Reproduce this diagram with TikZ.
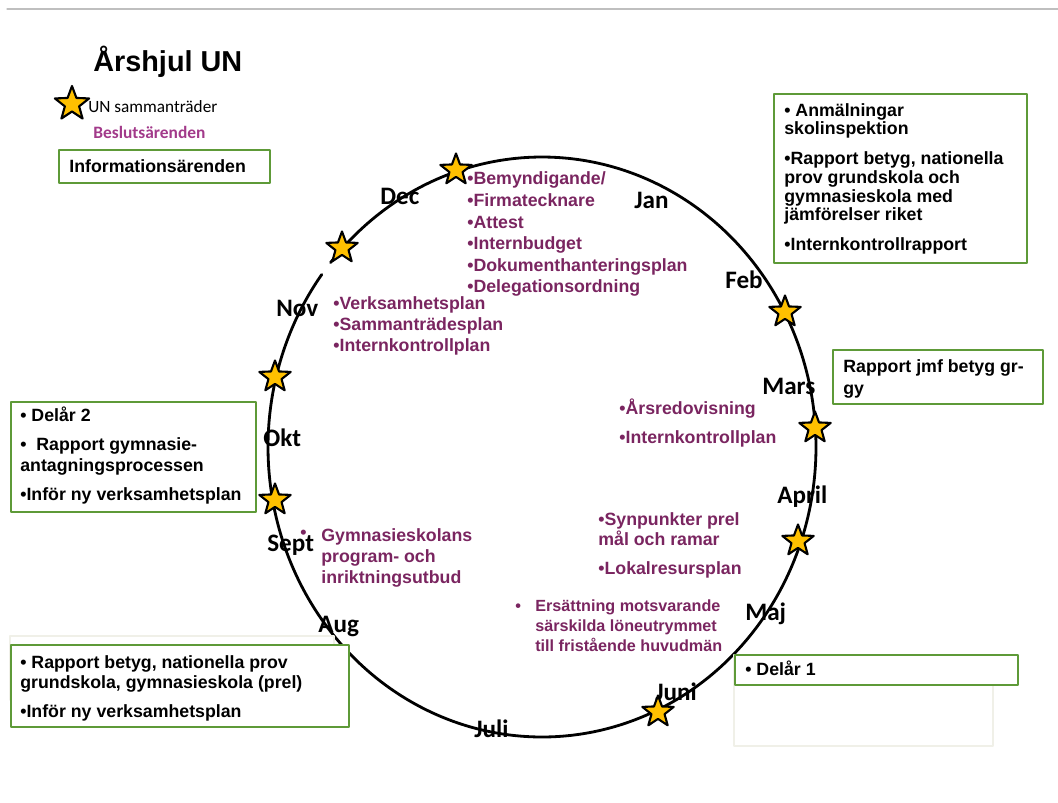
\documentclass[tikz,border=0pt]{standalone}
\usepackage{fontspec}
\setmainfont{Liberation Sans}
\newfontfamily\calibri{Carlito}
\usetikzlibrary{shapes.geometric}
\definecolor{boxgreen}{RGB}{94,154,56}
\definecolor{beslut}{RGB}{122,37,96}
\definecolor{legendpurple}{RGB}{162,58,138}
\definecolor{staryellow}{RGB}{255,192,0}
\definecolor{faint}{RGB}{240,240,232}

\tikzset{
	infobox/.style={draw=boxgreen, fill=white, line width=1.6pt},
	faintbox/.style={draw=faint, line width=1.6pt},
	boxtext/.style={anchor=base west, inner sep=0pt, font=\bfseries\fontsize{10.1}{12}\selectfont},
	besltext/.style={boxtext, text=beslut},
	month/.style={anchor=base west, inner sep=0pt, font=\calibri\bfseries\fontsize{14.3}{16}\selectfont},
	meeting/.style={star, star points=5, star point ratio=2.4, minimum size=0.66cm, inner sep=0pt,
		draw=black, line width=1.2pt, fill=staryellow},
}

\begin{document}
\begin{tikzpicture}[x=0.02cm, y=-0.02cm, line cap=round, line join=round]
	\useasboundingbox (0,0) rectangle (1058,802);
	\draw[black!25, line width=0.6pt] (7,9) -- (1058,9);
	
	%========================
	% Legend
	%========================
	\node[anchor=base west, inner sep=0pt, font=\bfseries\fontsize{16.4}{18}\selectfont] (title) at (93,71) {Årshjul UN};
	\node[meeting, minimum size=0.72cm] (legstar) at (72,104) {};
	\node[anchor=base west, inner sep=0pt, font=\calibri\fontsize{9.8}{12}\selectfont] (legmeet) at (88,112) {UN sammanträder};
	\node[anchor=base west, inner sep=0pt, font=\calibri\bfseries\fontsize{9.9}{12}\selectfont, text=legendpurple] (legbeslut) at (93,138) {Beslutsärenden};
	\draw[infobox] (59,150) rectangle (270,183);
	\node[boxtext] (leginfo) at (69,172) {Informationsärenden};
	
	%========================
	% Year wheel (small gap just below the Dec star)
	%========================
	\draw[line width=1.6pt] plot[domain=-140.5:216.5, samples=240, smooth] ({542+274*cos(\x)}, {447+290*sin(\x)});
	
	% months
	\foreach \mname/\mx/\my in {Jan/634/208, Feb/725/288, Mars/762/394, April/777/503, Maj/745/620,
		Juni/655/700, Juli/474/737, Aug/318/632, Sept/267/551, Okt/263/446, Nov/276/316, Dec/380/204}
	\node[month] (m\mname) at (\mx,\my) {\mname};
	
	% meetings
	\foreach \sx/\sy [count=\i] in {456/170, 342/248, 785/312, 815/428, 798/541, 658/712, 275/377, 275/500}
	\node[meeting] (star\i) at (\sx,\sy) {};
	
	%========================
	% Beslutsärenden inside the wheel
	%========================
	\foreach \ly/\txt [count=\i] in {184/{•Bemyndigande/}, 206/•Firmatecknare, 228/•Attest, 249/•Internbudget,
		271/•Dokumenthanteringsplan, 292/•Delegationsordning}
	\node[besltext] (jan\i) at (467,\ly) {\txt};
	\foreach \ly/\txt [count=\i] in {309/•Verksamhetsplan, 330/•Sammanträdesplan, 351/•Internkontrollplan}
	\node[besltext] (nov\i) at (333,\ly) {\txt};
	\foreach \ly/\txt [count=\i] in {414/•Årsredovisning, 443/•Internkontrollplan}
	\node[besltext] (mars\i) at (619,\ly) {\txt};
	\foreach \ly/\txt [count=\i] in {525/•Synpunkter prel, 545/mål och ramar, 574/•Lokalresursplan}
	\node[besltext] (april\i) at (598,\ly) {\txt};
	\node[besltext, font=\bfseries\fontsize{9.2}{11}\selectfont] (majdot) at (515,611) {•};
	\foreach \ly/\txt [count=\i] in {611/Ersättning motsvarande, 631/särskilda löneutrymmet, 651/till fristående huvudmän}
	\node[besltext, font=\bfseries\fontsize{9.2}{11}\selectfont] (maj\i) at (535,\ly) {\txt};
	\node[besltext] (septdot) at (300,538) {•};
	\foreach \ly/\txt [count=\i] in {541/Gymnasieskolans, 562/program- och, 583/inriktningsutbud}
	\node[besltext] (sept\i) at (321,\ly) {\txt};
	
	%========================
	% Informationsärenden (boxes)
	%========================
	% Jan--Feb
	\draw[infobox] (774,94) rectangle (1027,263);
	\foreach \ly/\txt [count=\i] in {116/• Anmälningar, 134/skolinspektion, 164/{•Rapport betyg, nationella},
		183/prov grundskola och, 202/gymnasieskola med, 220/jämförelser riket, 250/•Internkontrollrapport}
	\node[boxtext] (feb\i) at (784,\ly) {\txt};
	
	% Mars
	\draw[infobox] (833,350) rectangle (1043,404);
	\node[boxtext] (marsbox1) at (843,372) {Rapport jmf betyg gr-};
	\node[boxtext] (marsbox2) at (843,394) {gy};
	
	% Okt
	\draw[infobox] (11,402) rectangle (256,512);
	\foreach \ly/\txt [count=\i] in {421/• Delår 2, 450/•\ \ Rapport gymnasie-, 471/antagningsprocessen,
		500/•Inför ny verksamhetsplan}
	\node[boxtext] (okt\i) at (20,\ly) {\txt};
	
	% Aug
	\draw[faintbox] (10,636) rectangle (334,700);
	\draw[infobox] (11,645) rectangle (349,727);
	\foreach \ly/\txt [count=\i] in {668/{• Rapport betyg, nationella prov}, 688/{grundskola, gymnasieskola (prel)},
		717/•Inför ny verksamhetsplan}
	\node[boxtext] (aug\i) at (20,\ly) {\txt};
	
	% Juni
	\draw[faintbox] (734,655) rectangle (993,746);
	\draw[infobox] (735,655) rectangle (1018,685);
	\node[boxtext] (juni1) at (745,675) {• Delår 1};
	
\end{tikzpicture}
\end{document}
